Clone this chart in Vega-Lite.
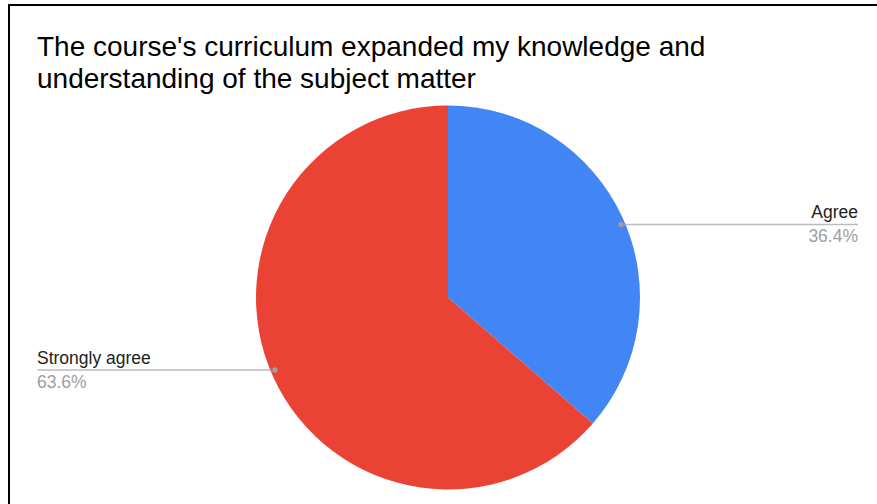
{
  "$schema": "https://vega.github.io/schema/vega-lite/v6.json",
  "width": 878,
  "height": 585,
  "autosize": {"type": "none"},
  "padding": {"left": 9, "top": 5, "right": 0, "bottom": 0},
  "background": "white",
  "config": {
    "view": {"stroke": "#000", "strokeWidth": 2},
    "font": "Liberation Sans"
  },
  "title": {
    "text": ["The course's curriculum expanded my knowledge and", "understanding of the subject matter"],
    "anchor": "start",
    "frame": "group",
    "orient": "top",
    "offset": -89,
    "dx": 28,
    "fontSize": 28,
    "fontWeight": "normal",
    "color": "#000000",
    "lineHeight": 32.5,
    "font": "Liberation Sans"
  },
  "data": {
    "values": [
      {"answer": "Agree", "share": 0.364},
      {"answer": "Strongly agree", "share": 0.636}
    ]
  },
  "layer": [
    {
      "mark": {"type": "arc", "outerRadius": 192},
      "encoding": {
        "theta": {"field": "share", "type": "quantitative", "stack": true},
        "order": {"field": "answer", "type": "nominal", "sort": "ascending"},
        "color": {
          "field": "answer",
          "type": "nominal",
          "scale": {"domain": ["Agree", "Strongly agree"], "range": ["#4285F4", "#EA4335"]},
          "legend": null
        }
      }
    },
    {
      "mark": {"type": "tick", "orient": "horizontal", "size": 237, "thickness": 1.5, "color": "#9e9e9e"},
      "encoding": {
        "x": {"field": "answer", "type": "nominal", "axis": null, "scale": {"type": "point", "padding": 0, "domain": ["Agree", "Strongly agree"], "range": [730.5, 147]}},
        "y": {"field": "answer", "type": "nominal", "axis": null, "scale": {"type": "point", "padding": 0, "domain": ["Agree", "Strongly agree"], "range": [219.5, 365]}}
      }
    },
    {
      "mark": {"type": "point", "filled": true, "size": 28, "opacity": 1, "color": "#9e9e9e"},
      "encoding": {
        "x": {"field": "answer", "type": "nominal", "axis": null, "scale": {"type": "point", "padding": 0, "domain": ["Agree", "Strongly agree"], "range": [612, 266]}},
        "y": {"field": "answer", "type": "nominal", "axis": null, "scale": {"type": "point", "padding": 0, "domain": ["Agree", "Strongly agree"], "range": [219.5, 365]}}
      }
    },
    {
      "transform": [{"filter": "datum.answer == 'Agree'"}],
      "layer": [
        {
          "mark": {"type": "text", "align": "right", "baseline": "alphabetic", "dy": -6.5, "fontSize": 17.5, "color": "#222222"},
          "encoding": {"text": {"field": "answer"}}
        },
        {
          "mark": {"type": "text", "align": "right", "baseline": "alphabetic", "dy": 17.5, "fontSize": 17.5, "color": "#9e9e9e"},
          "encoding": {"text": {"field": "share", "type": "quantitative", "format": ".1%"}}
        }
      ],
      "encoding": {
        "x": {"field": "answer", "type": "nominal", "axis": null, "scale": {"type": "point", "padding": 0, "domain": ["Agree", "Strongly agree"], "range": [849, 28]}},
        "y": {"field": "answer", "type": "nominal", "axis": null, "scale": {"type": "point", "padding": 0, "domain": ["Agree", "Strongly agree"], "range": [219.5, 365]}}
      }
    },
    {
      "transform": [{"filter": "datum.answer == 'Strongly agree'"}],
      "layer": [
        {
          "mark": {"type": "text", "align": "left", "baseline": "alphabetic", "dy": -6.5, "fontSize": 17.5, "color": "#222222"},
          "encoding": {"text": {"field": "answer"}}
        },
        {
          "mark": {"type": "text", "align": "left", "baseline": "alphabetic", "dy": 17.5, "fontSize": 17.5, "color": "#9e9e9e"},
          "encoding": {"text": {"field": "share", "type": "quantitative", "format": ".1%"}}
        }
      ],
      "encoding": {
        "x": {"field": "answer", "type": "nominal", "axis": null, "scale": {"type": "point", "padding": 0, "domain": ["Agree", "Strongly agree"], "range": [849, 28]}},
        "y": {"field": "answer", "type": "nominal", "axis": null, "scale": {"type": "point", "padding": 0, "domain": ["Agree", "Strongly agree"], "range": [219.5, 365]}}
      }
    }
  ],
  "resolve": {"scale": {"x": "independent"}}
}
